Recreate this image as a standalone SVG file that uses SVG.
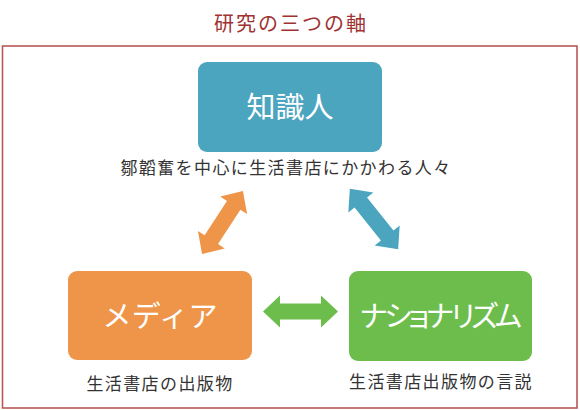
<svg xmlns="http://www.w3.org/2000/svg" width="580" height="410" viewBox="0 0 580 410">
<defs>
<style>
text{font-family:"Noto Sans CJK JP","Noto Sans",sans-serif;text-anchor:middle}
.title{font-size:20px;fill:#a03232;letter-spacing:2px}
.box{stroke:none}
.bt{font-size:29px;fill:#ffffff}
.lbl{font-size:17px;fill:#333333;letter-spacing:1.4px}
</style>
<path id="dbl" d="M -37.5 0 L -20.5 -16 L -20.5 -8 L 20.5 -8 L 20.5 -16 L 37.5 0 L 20.5 16 L 20.5 8 L -20.5 8 L -20.5 16 Z"/>
</defs>
<rect width="580" height="410" fill="#ffffff"/>
<text class="title" x="291" y="31">研究の三つの軸</text>
<rect x="2.5" y="46" width="574.5" height="362" fill="none" stroke="#b85858" stroke-width="1.6"/>
<g id="chishikijin">
<rect class="box" x="198" y="62" width="184" height="90" rx="9" fill="#4ba5bf"/>
<text class="bt" x="290" y="118">知識人</text>
<text class="lbl" x="286" y="174">鄒韜奮を中心に生活書店にかかわる人々</text>
</g>
<g id="media">
<rect class="box" x="68" y="271" width="184" height="89" rx="9" fill="#ef9549"/>
<text class="bt" x="160" y="327" textLength="115" lengthAdjust="spacing">メディア</text>
<text class="lbl" x="160" y="390">生活書店の出版物</text>
</g>
<g id="nationalism">
<rect class="box" x="349" y="271" width="183" height="90" rx="9" fill="#6cbd4c"/>
<text class="bt" x="441" y="327" textLength="162" lengthAdjust="spacing" style="font-feature-settings:'palt'">ナショナリズム</text>
<text class="lbl" x="441" y="388">生活書店出版物の言説</text>
</g>
<g id="connectors">
<use href="#dbl" fill="#ef9549" transform="translate(222.5 222.5) rotate(-57)"/>
<use href="#dbl" fill="#4ba5bf" transform="translate(374 219) rotate(51.3) scale(1.03 1)"/>
<use href="#dbl" fill="#6cbd4c" transform="translate(300.5 311.5)"/>
</g>
</svg>
